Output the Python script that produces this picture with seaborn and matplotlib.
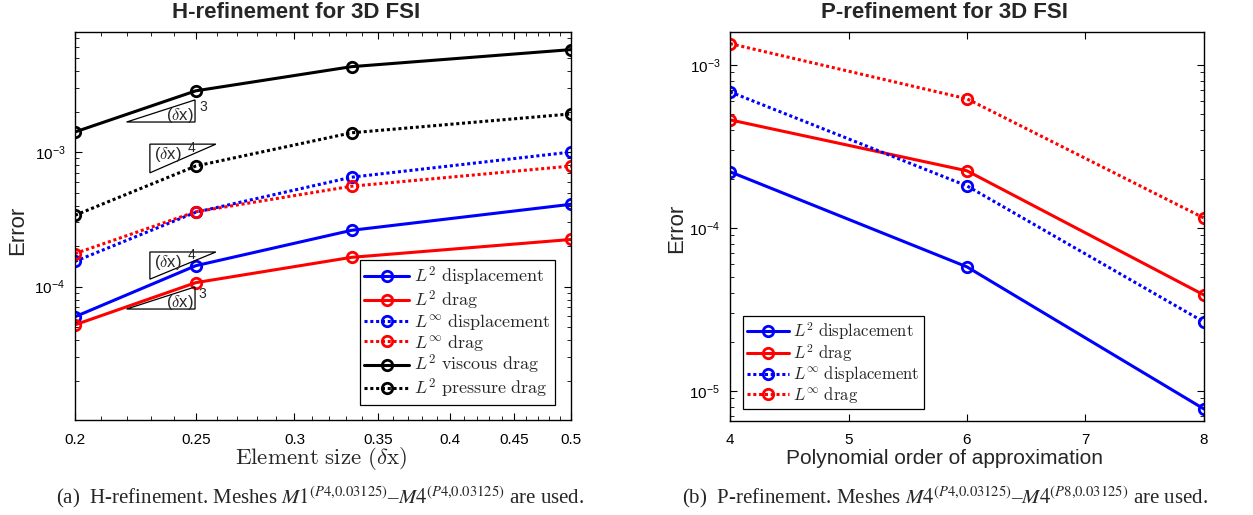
import numpy as np
import pandas as pd
import seaborn as sns
import matplotlib
matplotlib.use("Agg")
import matplotlib.pyplot as plt
from matplotlib.patches import Polygon
from matplotlib.ticker import FixedLocator, NullFormatter, LogLocator, LogFormatterSciNotation

# ---- H-refinement data (element size vs. error) ----
h_sizes = [0.2, 0.25, 1 / 3, 0.5]
h_l2_disp = [5.97e-5, 1.43e-4, 2.62e-4, 4.09e-4]
h_l2_drag = [5.2e-5, 1.07e-4, 1.65e-4, 2.24e-4]
h_linf_disp = [1.54e-4, 3.57e-4, 6.5e-4, 1.0e-3]
h_linf_drag = [1.76e-4, 3.6e-4, 5.57e-4, 7.87e-4]
h_l2_visc = [1.41e-3, 2.85e-3, 4.31e-3, 5.77e-3]
h_l2_press = [3.39e-4, 7.87e-4, 1.39e-3, 1.92e-3]
h_ticks = [0.2, 0.25, 0.3, 0.35, 0.4, 0.45, 0.5]
h_tick_labels = ["0.2", "0.25", "0.3", "0.35", "0.4", "0.45", "0.5"]

# ---- P-refinement data (polynomial order vs. error) ----
p_orders = [4, 6, 8]
p_l2_disp = [2.21e-4, 5.77e-5, 7.76e-6]
p_l2_drag = [4.6e-4, 2.24e-4, 3.88e-5]
p_linf_disp = [6.83e-4, 1.81e-4, 2.65e-5]
p_linf_drag = [1.35e-3, 6.19e-4, 1.15e-4]
p_ticks = [4, 5, 6, 7, 8]

series_names = [
    r"$L^2\ \mathrm{displacement}$",
    r"$L^2\ \mathrm{drag}$",
    r"$L^\infty\ \mathrm{displacement}$",
    r"$L^\infty\ \mathrm{drag}$",
    r"$L^2\ \mathrm{viscous\ drag}$",
    r"$L^2\ \mathrm{pressure\ drag}$",
]

sns.set_theme(style="white")
plt.rcParams["font.family"] = ["Liberation Sans", "DejaVu Sans"]
plt.rcParams["mathtext.fontset"] = "cm"
plt.rcParams["axes.unicode_minus"] = False

fig = plt.figure(figsize=(12.53, 5.15), dpi=100)
W, H = 1253, 515


def px_axes(x0, x1, y0, y1):
    return fig.add_axes([x0 / W, 1 - y1 / H, (x1 - x0) / W, (y1 - y0) / H])


axL = px_axes(75, 571, 32, 420)
axR = px_axes(730, 1204, 32, 421)

dotted = (0, (1.0, 0.9))
styles = [
    ("#0000ff", "-"),
    ("#ff0000", "-"),
    ("#0000ff", dotted),
    ("#ff0000", dotted),
    ("#000000", "-"),
    ("#000000", dotted),
]


def draw(ax, x, ys, names):
    handles = []
    for y, name, (c, ls) in zip(ys, names, styles):
        df = pd.DataFrame({"x": x, "y": y})
        sns.lineplot(data=df, x="x", y="y", ax=ax, color=c, linestyle=ls,
                     linewidth=2.2, marker="o", markersize=7.5,
                     markerfacecolor="none", markeredgecolor=c,
                     markeredgewidth=2.0, label=name, legend=False)
        handles.append(ax.lines[-1])
    return handles


def style_axes(ax):
    for s in ax.spines.values():
        s.set_color("black")
        s.set_linewidth(1.0)
    ax.tick_params(which="both", direction="in", bottom=True, left=True,
                   top=True, right=True, colors="black", labelsize=11)
    ax.tick_params(which="major", length=5, width=0.8)
    ax.tick_params(which="minor", length=3, width=0.6)
    ax.tick_params(axis="x", pad=9)
    ax.tick_params(axis="y", pad=7)
    ax.set_xlabel("")
    ax.set_ylabel("")
    ax.grid(False)


# ---- left panel ----
hL = draw(axL, h_sizes, [h_l2_disp, h_l2_drag, h_linf_disp, h_linf_drag,
                         h_l2_visc, h_l2_press], series_names)
axL.set_xscale("log")
axL.set_yscale("log")
axL.set_xlim(0.2, 0.5)
axL.set_ylim(1.02e-5, 7.8e-3)
axL.xaxis.set_major_locator(FixedLocator(h_ticks))
axL.set_xticklabels(h_tick_labels)
minor_h = [round(v, 2) for v in np.arange(0.21, 0.50, 0.01)]
axL.xaxis.set_minor_locator(FixedLocator([v for v in minor_h if v not in h_ticks]))
axL.xaxis.set_minor_formatter(NullFormatter())
axL.yaxis.set_major_locator(LogLocator(base=10, numticks=10))
axL.yaxis.set_major_formatter(LogFormatterSciNotation())
axL.yaxis.set_minor_locator(LogLocator(base=10, subs=np.arange(2, 10), numticks=20))
axL.yaxis.set_minor_formatter(NullFormatter())
style_axes(axL)

legL = axL.legend(handles=hL, loc="lower right", bbox_to_anchor=(0.968, 0.039),
                  fontsize=13, frameon=True, fancybox=False, framealpha=1,
                  edgecolor="black", borderaxespad=0, handlelength=2.5,
                  handletextpad=0.25, labelspacing=0.02, borderpad=0.25)
legL.get_frame().set_linewidth(0.9)

# slope triangles (axes fraction): vertices, exponent, label centre, exponent position
tri_specs = [
    ([(0.104, 0.768), (0.242, 0.825), (0.242, 0.768)], "3", (0.212, 0.786), (0.250, 0.806)),
    ([(0.151, 0.711), (0.284, 0.711), (0.151, 0.637)], "4", (0.188, 0.683), (0.228, 0.702)),
    ([(0.151, 0.433), (0.284, 0.433), (0.151, 0.363)], "4", (0.188, 0.407), (0.228, 0.426)),
    ([(0.104, 0.286), (0.242, 0.343), (0.242, 0.286)], "3", (0.212, 0.304), (0.248, 0.324)),
]
for verts, p, tpos, ppos in tri_specs:
    axL.add_patch(Polygon(verts, closed=True, fill=False, edgecolor="black",
                          linewidth=0.9, transform=axL.transAxes, zorder=4))
    axL.text(tpos[0], tpos[1], r"($\delta$x)", transform=axL.transAxes,
             ha="center", va="center", fontsize=12, math_fontfamily="cm", zorder=5)
    axL.text(ppos[0], ppos[1], p, transform=axL.transAxes,
             ha="left", va="center", fontsize=10, zorder=5)

# ---- right panel ----
hR = draw(axR, p_orders, [p_l2_disp, p_l2_drag, p_linf_disp, p_linf_drag],
          series_names[:4])
axR.set_yscale("log")
axR.set_xlim(4, 8)
axR.set_ylim(6.55e-6, 1.59e-3)
axR.xaxis.set_major_locator(FixedLocator(p_ticks))
axR.set_xticklabels([str(t) for t in p_ticks])
axR.yaxis.set_major_locator(LogLocator(base=10, numticks=10))
axR.yaxis.set_major_formatter(LogFormatterSciNotation())
axR.yaxis.set_minor_locator(LogLocator(base=10, subs=np.arange(2, 10), numticks=20))
axR.yaxis.set_minor_formatter(NullFormatter())
style_axes(axR)

legR = axR.legend(handles=hR, loc="lower left", bbox_to_anchor=(0.027, 0.031),
                  fontsize=12, frameon=True, fancybox=False, framealpha=1,
                  edgecolor="black", borderaxespad=0, handlelength=2.5,
                  handletextpad=0.25, labelspacing=0.02, borderpad=0.25)
legR.get_frame().set_linewidth(0.9)

# ---- titles and labels ----
fig.text(296 / W, 1 - 13 / H, "H-refinement for 3D FSI", ha="center", va="center",
         fontsize=16, fontweight="bold")
fig.text(944 / W, 1 - 13 / H, "P-refinement for 3D FSI", ha="center", va="center",
         fontsize=16, fontweight="bold")
fig.text(18 / W, 1 - 230 / H, "Error", rotation=90, ha="center", va="center", fontsize=16)
fig.text(677 / W, 1 - 228 / H, "Error", rotation=90, ha="center", va="center", fontsize=16)
fig.text(321 / W, 1 - 459 / H, r"$\mathrm{Element\ size\ (}\delta\mathrm{x)}$",
         ha="center", va="center", fontsize=16.5, math_fontfamily="cm")
fig.text(944 / W, 1 - 459 / H, "Polynomial order of approximation",
         ha="center", va="center", fontsize=15)

# ---- captions ----
cap_kw = dict(ha="center", va="center", fontsize=15,
              family=["Liberation Serif", "DejaVu Serif"], math_fontfamily="stix")
fig.text(320 / W, 1 - 497 / H,
         r"(a)  H-refinement. Meshes $M1^{(P4{,}0.03125)}$–$M4^{(P4{,}0.03125)}$ are used.",
         **cap_kw)
fig.text(945 / W, 1 - 497 / H,
         r"(b)  P-refinement. Meshes $M4^{(P4{,}0.03125)}$–$M4^{(P8{,}0.03125)}$ are used.",
         **cap_kw)

fig.savefig("out.png", dpi=100, facecolor="white")
